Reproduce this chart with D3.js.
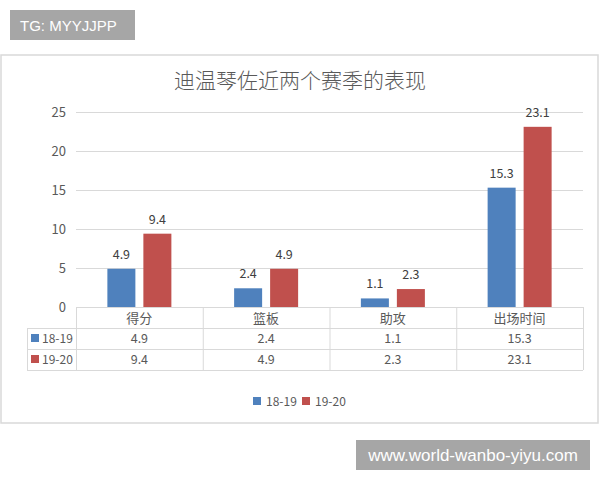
<!DOCTYPE html>
<html>
<head>
<meta charset="utf-8">
<script src="https://cdn.jsdelivr.net/npm/d3@7"></script>
<style>
  body { margin: 0; background: #fff; }
  svg { display: block; font-family: "Noto Sans CJK SC", "Noto Sans", sans-serif; }
</style>
</head>
<body>
<div id="chart"></div>
<script>
// values
const categories = ["得分", "篮板", "助攻", "出场时间"]
const seriesNames = ["18-19", "19-20"]
const season1819 = [4.9, 2.4, 1.1, 15.3]
const season1920 = [9.4, 4.9, 2.3, 23.1]
const yTicks = [0, 5, 10, 15, 20, 25]
const colors = ["#4f81bd", "#c0504d"]

const width = 600, height = 480
const plot = { left: 76, right: 583, top: 112, bottom: 307 }
const rowH = 21

const svg = d3.select("#chart").append("svg")
  .attr("width", width)
  .attr("height", height)

// tag box top left
svg.append("rect").attr("x", 10).attr("y", 10).attr("width", 125).attr("height", 30).attr("fill", "#a6a6a6")
svg.append("text").attr("x", 20).attr("y", 31).attr("fill", "#fff")
  .style("font-family", "Liberation Sans, Arial, sans-serif").style("font-size", "15px")
  .text("TG: MYYJJPP")

// chart frame
svg.append("rect").attr("x", 1).attr("y", 55).attr("width", 597).attr("height", 368)
  .attr("fill", "#fff").attr("stroke", "#d9d9d9").attr("stroke-width", 1.5)

svg.append("text").attr("x", 300).attr("y", 88).attr("text-anchor", "middle")
  .attr("fill", "#595959").style("font-size", "21px").style("font-weight", 300)
  .text("迪温琴佐近两个赛季的表现")

const y = d3.scaleLinear().domain([0, 25]).range([plot.bottom, plot.top])
const x = d3.scaleBand().domain(categories).range([plot.left, plot.right])
const bw = x.bandwidth()
const xs = d3.scaleBand().domain(seriesNames)
  .range([bw / 2 - 32, bw / 2 + 32]).paddingInner(0.222)

// gridlines + y labels
const grid = svg.append("g")
grid.selectAll("line").data(yTicks).join("line")
  .attr("x1", plot.left).attr("x2", plot.right)
  .attr("y1", d => y(d) + 0.5).attr("y2", d => y(d) + 0.5)
  .attr("stroke", "#d9d9d9")
grid.selectAll("text").data(yTicks).join("text")
  .attr("x", 66).attr("y", d => y(d) + 5).attr("text-anchor", "end")
  .attr("fill", "#595959").style("font-size", "13px")
  .text(d => d)

const series = [season1819, season1920]
series.forEach((vals, si) => {
  const g = svg.append("g")
  g.selectAll("rect").data(vals).join("rect")
    .attr("x", (d, i) => x(categories[i]) + xs(seriesNames[si]))
    .attr("y", d => y(d))
    .attr("width", xs.bandwidth())
    .attr("height", d => y(0) - y(d))
    .attr("fill", colors[si])
  g.selectAll("text").data(vals).join("text")
    .attr("x", (d, i) => x(categories[i]) + xs(seriesNames[si]) + xs.bandwidth() / 2)
    .attr("y", d => y(d) - 10)
    .attr("text-anchor", "middle")
    .attr("fill", "#404040").style("font-size", "12.5px")
    .text(d => d.toFixed(1))
})

// data table under the axis
const table = svg.append("g").attr("stroke", "#d9d9d9").attr("fill", "none")
const tTop = plot.bottom, tBot = plot.bottom + rowH * 3
table.append("line").attr("x1", plot.left).attr("x2", plot.right).attr("y1", tTop + 0.5).attr("y2", tTop + 0.5)
;[1, 2, 3].forEach(r => {
  table.append("line").attr("x1", 27).attr("x2", plot.right)
    .attr("y1", tTop + rowH * r + 0.5).attr("y2", tTop + rowH * r + 0.5)
})
table.append("line").attr("x1", 27.5).attr("x2", 27.5).attr("y1", tTop + rowH).attr("y2", tBot)
table.selectAll(".v").data(categories.concat(["end"])).join("line")
  .attr("x1", d => (d === "end" ? plot.right : x(d)) + 0.5)
  .attr("x2", d => (d === "end" ? plot.right : x(d)) + 0.5)
  .attr("y1", tTop).attr("y2", tBot)

svg.append("g").selectAll("text").data(categories).join("text")
  .attr("x", d => x(d) + bw / 2).attr("y", tTop + 16).attr("text-anchor", "middle")
  .attr("fill", "#595959").style("font-size", "13px")
  .text(d => d)

series.forEach((vals, si) => {
  const ry = tTop + rowH * (si + 1)
  svg.append("rect").attr("x", 31).attr("y", ry + 6).attr("width", 8).attr("height", 8).attr("fill", colors[si])
  svg.append("text").attr("x", 42).attr("y", ry + 15).attr("fill", "#595959").style("font-size", "12px")
    .text(seriesNames[si])
  svg.append("g").selectAll("text").data(vals).join("text")
    .attr("x", (d, i) => x(categories[i]) + bw / 2).attr("y", ry + 15).attr("text-anchor", "middle")
    .attr("fill", "#595959").style("font-size", "12.5px")
    .text(d => d.toFixed(1))
})

// legend
const legend = svg.append("g").attr("transform", "translate(253,397)")
seriesNames.forEach((n, i) => {
  const lx = i * 49
  legend.append("rect").attr("x", lx).attr("y", 0).attr("width", 8).attr("height", 8).attr("fill", colors[i])
  legend.append("text").attr("x", lx + 13).attr("y", 9).attr("fill", "#595959").style("font-size", "12px").text(n)
})

// watermark bottom right
svg.append("rect").attr("x", 356).attr("y", 440).attr("width", 234).attr("height", 30).attr("fill", "#a6a6a6")
svg.append("text").attr("x", 473).attr("y", 461).attr("text-anchor", "middle").attr("fill", "#fff")
  .style("font-family", "Liberation Sans, Arial, sans-serif").style("font-size", "17px")
  .text("www.world-wanbo-yiyu.com")
</script>
</body>
</html>
